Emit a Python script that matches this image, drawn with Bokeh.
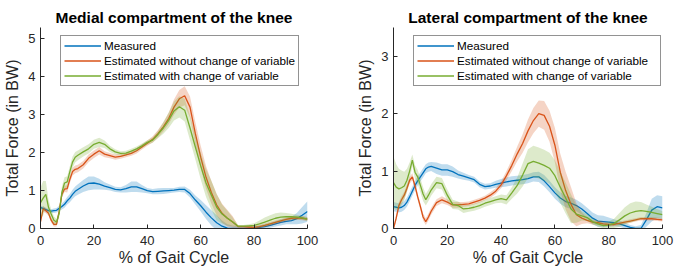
from bokeh.plotting import figure
from bokeh.layouts import row
from bokeh.models import Legend, LegendItem, FixedTicker, Range1d
from bokeh.embed import file_html
from bokeh.resources import INLINE

# % of gait cycle
X = [0, 1, 2, 3, 4, 5, 6, 7, 8, 9, 10, 11, 12, 13, 14, 16, 18, 20, 22, 24, 26, 28, 30,
     32, 34, 36, 38, 40, 42, 44, 46, 48, 50, 52, 54, 56, 58, 60, 62, 64, 66, 68, 70,
     72, 74, 76, 78, 80, 82, 84, 86, 88, 90, 92, 94, 96, 98, 100]

# ---- Medial compartment ----
med_meas = [0.55, 0.53, 0.50, 0.47, 0.46, 0.47, 0.48, 0.53, 0.58, 0.64, 0.73, 0.80, 0.90, 0.98, 1.03,
            1.12, 1.19, 1.20, 1.17, 1.12, 1.08, 1.03, 1.02, 1.05, 1.10, 1.10, 1.05, 1.00, 0.97,
            0.98, 0.99, 1.00, 1.01, 1.03, 1.03, 0.92, 0.75, 0.60, 0.43, 0.28, 0.15, 0.06, 0.01,
            0.00, 0.00, 0.00, 0.00, 0.01, 0.03, 0.05, 0.08, 0.12, 0.16, 0.19, 0.21, 0.26, 0.35, 0.45]
med_meas_sd = [0.05, 0.05, 0.05, 0.05, 0.05, 0.06, 0.06, 0.07, 0.08, 0.09, 0.10, 0.11, 0.12, 0.13, 0.14,
               0.16, 0.18, 0.17, 0.14, 0.10, 0.08, 0.07, 0.07, 0.10, 0.14, 0.14, 0.10, 0.07, 0.07,
               0.08, 0.08, 0.07, 0.06, 0.07, 0.08, 0.10, 0.12, 0.15, 0.18, 0.20, 0.20, 0.15, 0.10,
               0.08, 0.06, 0.05, 0.05, 0.05, 0.05, 0.06, 0.06, 0.07, 0.08, 0.08, 0.10, 0.15, 0.22, 0.27]
med_est = [0.18, 0.52, 0.47, 0.40, 0.22, 0.11, 0.11, 0.45, 0.90, 1.04, 1.05, 1.30, 1.50, 1.56, 1.58,
           1.68, 1.85, 1.96, 2.05, 1.96, 1.92, 1.88, 1.90, 1.94, 1.98, 2.05, 2.15, 2.25, 2.35,
           2.50, 2.68, 2.90, 3.20, 3.42, 3.50, 3.20, 2.50, 1.88, 1.35, 0.95, 0.62, 0.40, 0.27,
           0.17, 0.05, 0.05, 0.04, 0.03, 0.05, 0.08, 0.12, 0.16, 0.20, 0.24, 0.27, 0.28, 0.27, 0.25]
med_est_sd = [0.08, 0.08, 0.07, 0.06, 0.06, 0.06, 0.06, 0.07, 0.08, 0.08, 0.10, 0.10, 0.10, 0.10, 0.10,
              0.10, 0.10, 0.10, 0.10, 0.08, 0.07, 0.07, 0.06, 0.06, 0.06, 0.07, 0.07, 0.07, 0.08,
              0.10, 0.12, 0.15, 0.20, 0.23, 0.25, 0.28, 0.30, 0.30, 0.30, 0.30, 0.28, 0.25, 0.22,
              0.15, 0.03, 0.03, 0.03, 0.03, 0.04, 0.05, 0.05, 0.05, 0.05, 0.05, 0.05, 0.05, 0.05, 0.05]
med_cov = [0.68, 0.80, 0.90, 0.56, 0.38, 0.22, 0.17, 0.40, 0.95, 1.20, 1.23, 1.50, 1.75, 1.88, 1.93,
           2.02, 2.10, 2.22, 2.27, 2.22, 2.10, 2.02, 1.98, 1.99, 2.04, 2.10, 2.18, 2.27, 2.33,
           2.48, 2.65, 2.85, 3.10, 3.21, 3.12, 2.65, 2.15, 1.65, 1.20, 0.88, 0.56, 0.38, 0.27,
           0.17, 0.06, 0.06, 0.07, 0.08, 0.12, 0.17, 0.22, 0.27, 0.30, 0.31, 0.31, 0.30, 0.28, 0.25]
med_cov_sd = [0.40, 0.45, 0.35, 0.20, 0.12, 0.10, 0.08, 0.10, 0.15, 0.15, 0.15, 0.15, 0.15, 0.14, 0.13,
              0.12, 0.12, 0.12, 0.12, 0.10, 0.08, 0.07, 0.06, 0.06, 0.06, 0.06, 0.06, 0.06, 0.07,
              0.10, 0.15, 0.20, 0.25, 0.28, 0.30, 0.32, 0.33, 0.35, 0.37, 0.38, 0.35, 0.25, 0.20,
              0.12, 0.03, 0.03, 0.04, 0.06, 0.09, 0.12, 0.13, 0.13, 0.12, 0.10, 0.08, 0.06, 0.05, 0.05]

# ---- Lateral compartment ----
lat_meas = [0.38, 0.37, 0.36, 0.37, 0.40, 0.46, 0.55, 0.65, 0.75, 0.83, 0.90, 0.97, 1.04, 1.07, 1.08,
            1.05, 1.02, 1.02, 0.99, 0.94, 0.91, 0.88, 0.85, 0.77, 0.73, 0.74, 0.77, 0.79, 0.81,
            0.83, 0.84, 0.85, 0.87, 0.90, 0.90, 0.83, 0.73, 0.62, 0.53, 0.47, 0.44, 0.40, 0.34,
            0.26, 0.18, 0.13, 0.12, 0.11, 0.10, 0.08, 0.05, 0.02, 0.00, 0.00, 0.15, 0.32, 0.38, 0.36]
lat_meas_sd = [0.08, 0.08, 0.08, 0.08, 0.08, 0.08, 0.08, 0.08, 0.08, 0.08, 0.08, 0.08, 0.08, 0.08, 0.08,
               0.10, 0.10, 0.10, 0.09, 0.07, 0.06, 0.05, 0.05, 0.05, 0.05, 0.05, 0.06, 0.07, 0.08,
               0.08, 0.08, 0.08, 0.08, 0.08, 0.09, 0.10, 0.10, 0.10, 0.10, 0.10, 0.10, 0.10, 0.10,
               0.10, 0.10, 0.10, 0.10, 0.08, 0.06, 0.05, 0.05, 0.04, 0.04, 0.06, 0.12, 0.20, 0.20, 0.20]
lat_est = [0.00, 0.18, 0.40, 0.50, 0.58, 0.70, 0.84, 0.90, 0.74, 0.55, 0.38, 0.20, 0.12, 0.20, 0.30,
           0.45, 0.50, 0.46, 0.41, 0.41, 0.42, 0.43, 0.46, 0.49, 0.53, 0.58, 0.65, 0.76, 0.92,
           1.10, 1.30, 1.48, 1.70, 1.88, 2.00, 1.97, 1.78, 1.45, 0.98, 0.66, 0.42, 0.24, 0.18,
           0.14, 0.11, 0.10, 0.08, 0.07, 0.07, 0.09, 0.11, 0.13, 0.15, 0.17, 0.17, 0.17, 0.16, 0.15]
lat_est_sd = [0.03, 0.05, 0.06, 0.06, 0.06, 0.06, 0.06, 0.06, 0.06, 0.06, 0.06, 0.06, 0.06, 0.06, 0.06,
              0.06, 0.06, 0.05, 0.05, 0.05, 0.04, 0.04, 0.04, 0.04, 0.04, 0.05, 0.05, 0.06, 0.08,
              0.10, 0.13, 0.16, 0.20, 0.22, 0.23, 0.25, 0.27, 0.30, 0.32, 0.33, 0.30, 0.20, 0.10,
              0.05, 0.04, 0.04, 0.04, 0.03, 0.03, 0.03, 0.03, 0.03, 0.03, 0.03, 0.03, 0.03, 0.03, 0.03]
lat_cov = [0.80, 0.72, 0.69, 0.71, 0.74, 0.84, 1.00, 1.19, 0.98, 0.90, 0.75, 0.60, 0.50, 0.58, 0.67,
           0.80, 0.78, 0.58, 0.42, 0.40, 0.34, 0.35, 0.37, 0.40, 0.44, 0.47, 0.50, 0.52, 0.50,
           0.62, 0.75, 0.93, 1.13, 1.17, 1.14, 1.10, 1.05, 0.92, 0.72, 0.53, 0.34, 0.25, 0.22,
           0.19, 0.12, 0.08, 0.05, 0.06, 0.09, 0.15, 0.22, 0.27, 0.30, 0.31, 0.30, 0.28, 0.26, 0.24]
lat_cov_sd = [0.45, 0.40, 0.35, 0.30, 0.25, 0.20, 0.15, 0.10, 0.12, 0.12, 0.12, 0.12, 0.10, 0.10, 0.10,
              0.10, 0.10, 0.10, 0.08, 0.07, 0.07, 0.06, 0.06, 0.06, 0.06, 0.06, 0.06, 0.07, 0.08,
              0.10, 0.14, 0.20, 0.25, 0.27, 0.27, 0.27, 0.27, 0.27, 0.27, 0.27, 0.25, 0.15, 0.08,
              0.06, 0.05, 0.05, 0.05, 0.06, 0.08, 0.12, 0.15, 0.17, 0.17, 0.15, 0.12, 0.10, 0.08, 0.06]

for arr in [med_meas, med_meas_sd, med_est, med_est_sd, med_cov, med_cov_sd,
            lat_meas, lat_meas_sd, lat_est, lat_est_sd, lat_cov, lat_cov_sd]:
    assert len(arr) == len(X), len(arr)

LABELS = ["Measured", "Estimated without change of variable", "Estimated with change of variable"]
COLORS = ["#0072BD", "#D95319", "#77AC30"]
X_TICKS = [0, 20, 40, 60, 80, 100]
FONT = "Liberation Sans"
AX = "#262626"


def make(title, ymax, yticks, series, width, bl, br, label_width, pad):
    p = figure(width=width, height=272, output_backend="svg", toolbar_location=None,
               x_range=Range1d(0, 100), y_range=Range1d(0, ymax),
               min_border_left=bl, min_border_right=br, min_border_top=27, min_border_bottom=44)
    p.title.text = title
    p.title.align = "center"
    p.title.text_font = FONT
    p.title.text_font_size = "15.5px"
    p.title.text_font_style = "bold"
    p.title.text_color = "#000000"
    p.title.standoff = 3
    p.outline_line_color = None
    p.xgrid.visible = False
    p.ygrid.visible = False
    p.background_fill_color = "white"
    p.border_fill_color = "white"

    p.xaxis.ticker = FixedTicker(ticks=X_TICKS)
    p.yaxis.ticker = FixedTicker(ticks=yticks)
    p.xaxis.axis_label = "% of Gait Cycle"
    p.yaxis.axis_label = "Total Force (in BW)"
    for ax in (p.xaxis, p.yaxis):
        ax.axis_line_color = AX
        ax.axis_line_width = 1
        ax.major_tick_line_color = AX
        ax.major_tick_in = 4
        ax.major_tick_out = 0
        ax.minor_tick_line_color = None
        ax.major_label_text_font = FONT
        ax.major_label_text_font_size = "13px"
        ax.major_label_text_color = AX
        ax.axis_label_text_font = FONT
        ax.axis_label_text_font_size = "16px"
        ax.axis_label_text_font_style = "normal"
        ax.axis_label_text_color = AX
    p.xaxis.major_label_standoff = 7
    p.xaxis.axis_label_standoff = 1
    p.yaxis.major_label_standoff = 5
    p.yaxis.axis_label_standoff = 4

    items = []
    for (y, sd), col, lab in zip(series, COLORS, LABELS):
        lo = [a - b for a, b in zip(y, sd)]
        hi = [a + b for a, b in zip(y, sd)]
        p.varea(x=X, y1=lo, y2=hi, fill_color=col, fill_alpha=0.25)
        r = p.line(X, y, line_color=col, line_width=1.3)
        items.append(LegendItem(label=lab, renderers=[r]))

    leg = Legend(items=items, location=(20, 142))
    leg.label_text_font = FONT
    leg.label_text_font_size = "11.7px"
    leg.label_text_color = "#000000"
    leg.border_line_color = AX
    leg.border_line_width = 1
    leg.background_fill_alpha = 1
    leg.padding = pad
    leg.spacing = 2
    leg.margin = 0
    leg.glyph_width = 37
    leg.glyph_height = 13
    leg.label_height = 13
    leg.label_standoff = 3
    leg.label_width = label_width
    p.add_layout(leg)
    return p


p1 = make("Medial compartment of the knee", 5.3, [0, 1, 2, 3, 4, 5],
          [(med_meas, med_meas_sd), (med_est, med_est_sd), (med_cov, med_cov_sd)],
          337, 40, 30, 20, 3)
p2 = make("Lateral compartment of the knee", 3.5, [0, 1, 2, 3],
          [(lat_meas, lat_meas_sd), (lat_est, lat_est_sd), (lat_cov, lat_cov_sd)],
          337, 56, 12, 200, 3)

layout = row(p1, p2)
open("out.html", "w").write(file_html(layout, INLINE))
